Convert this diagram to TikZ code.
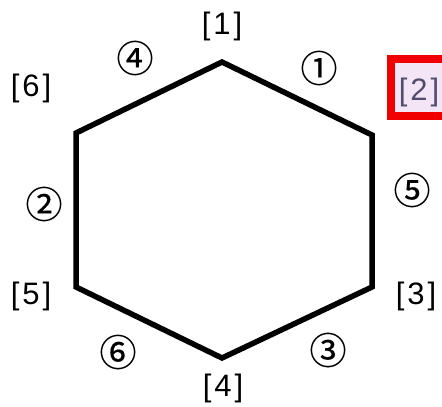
\documentclass[tikz,border=0pt]{standalone}
\usepackage{fontspec}
\setmainfont{Liberation Sans}
\newfontfamily\circfont[FakeBold=0.4]{Noto Sans CJK JP}
\usepackage{xcolor}
\usetikzlibrary{positioning}
\definecolor{markred}{RGB}{240,0,0}
\definecolor{markfill}{RGB}{243,228,246}
\definecolor{marktext}{RGB}{80,78,110}

\begin{document}
\begin{tikzpicture}[
  x=1pt,y=-1pt,
  edge/.style={line width=5.5pt,line join=miter,draw=black},
  vlab/.style={font=\fontsize{31}{32}\selectfont,inner sep=0pt},
  elab/.style={font=\circfont\fontsize{37}{39}\selectfont,inner sep=0pt},
  hilite/.style={draw=markred,fill=markfill,line width=8pt}
]
\fill[white] (0,0) rectangle (442,407);

% corners of the ring
\coordinate (v1) at (222,62);
\coordinate (v2) at (372,135);
\coordinate (v3) at (372,287);
\coordinate (v4) at (222,358);
\coordinate (v5) at (76,287);
\coordinate (v6) at (76,133);

\draw[edge] (v1) -- (v2) -- (v3) -- (v4) -- (v5) -- (v6) -- cycle;

% marked corner
\draw[hilite] (391,59) rectangle (450,116);

\node[vlab] (n1) at (222,26) {[\hspace{3pt}1\hspace{3pt}]};
\node[vlab,text=marktext] (n2) at (419,92) {[\hspace{3pt}2\hspace{3pt}]};
\node[vlab] (n3) at (416,296) {[\hspace{3pt}3\hspace{3pt}]};
\node[vlab] (n4) at (223,388) {[\hspace{3pt}4\hspace{3pt}]};
\node[vlab] (n5) at (31,296) {[\hspace{3pt}5\hspace{3pt}]};
\node[vlab] (n6) at (31,88) {[\hspace{3pt}6\hspace{3pt}]};

\node[elab] (e1) at (319,68) {①};
\node[elab] (e2) at (44,204) {②};
\node[elab] (e3) at (328,350) {③};
\node[elab] (e4) at (135,58) {④};
\node[elab] (e5) at (412,190) {⑤};
\node[elab] (e6) at (118,352) {⑥};

\pgfresetboundingbox
\useasboundingbox (0,0) rectangle (442,407);
\end{tikzpicture}
\end{document}
